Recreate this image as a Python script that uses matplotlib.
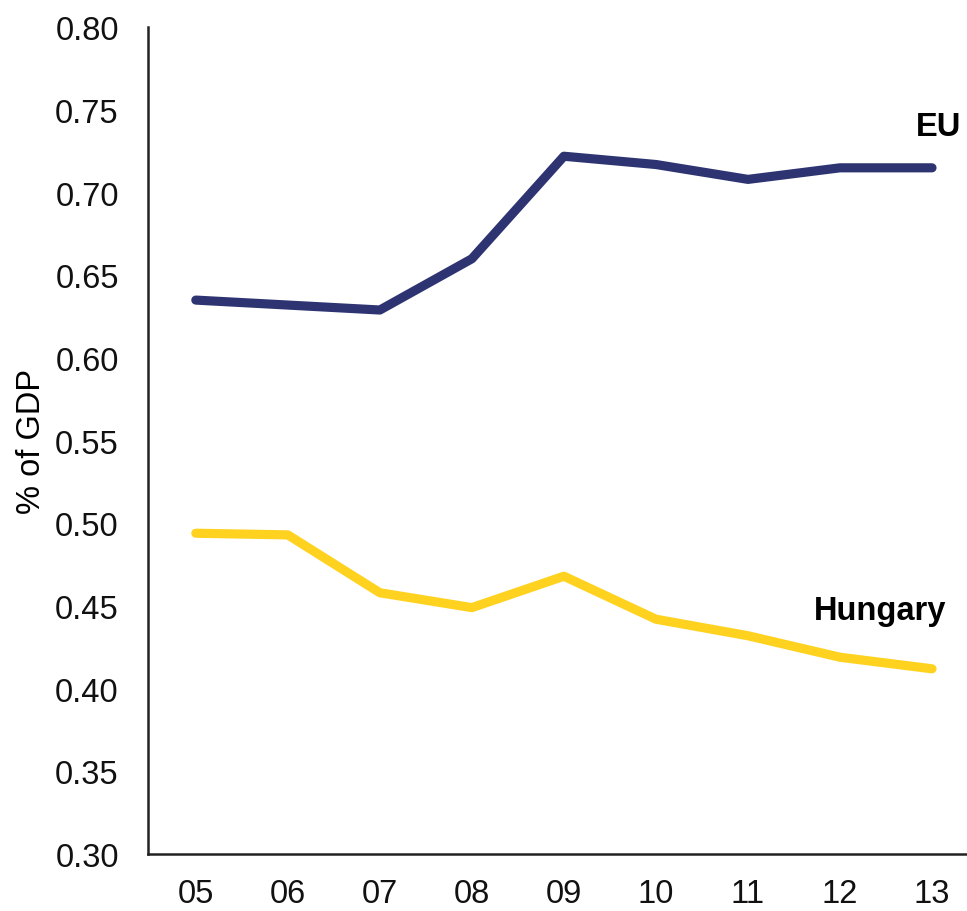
import matplotlib.pyplot as plt

plt.rcParams['font.family'] = ['Liberation Sans', 'DejaVu Sans']

years = ['05', '06', '07', '08', '09', '10', '11', '12', '13']
eu = [0.635, 0.632, 0.629, 0.660, 0.722, 0.717, 0.708, 0.715, 0.715]
hungary = [0.494, 0.493, 0.458, 0.449, 0.468, 0.442, 0.432, 0.419, 0.412]
yticks = [0.30, 0.35, 0.40, 0.45, 0.50, 0.55, 0.60, 0.65, 0.70, 0.75, 0.80]

EU_COLOR = '#2e3471'
HU_COLOR = '#fed21e'

fig = plt.figure(figsize=(9.67, 9.12), dpi=100)
ax = fig.add_axes([0.153, 0.0625, 0.847, 0.9065])

x = list(range(len(years)))
ax.plot(x, eu, color=EU_COLOR, lw=6.6, solid_capstyle='round', solid_joinstyle='round')
ax.plot(x, hungary, color=HU_COLOR, lw=6.6, solid_capstyle='round', solid_joinstyle='round')

# series labels
ax.text(8.07, 0.740, 'EU', fontsize=23.5, fontweight='bold', ha='center', va='center')
ax.text(7.43, 0.447, 'Hungary', fontsize=23.5, fontweight='bold', ha='center', va='center')

ax.set_xlim(-0.52, 8.38)
ax.set_ylim(0.30, 0.80)
ax.set_xticks(x)
ax.set_xticklabels(years)
ax.set_yticks(yticks)
ax.set_yticklabels(['%.2f' % v for v in yticks])
ax.tick_params(axis='both', length=0, labelsize=23.5, colors='#111111')
ax.tick_params(axis='y', pad=21)
ax.tick_params(axis='x', pad=17)
ax.set_ylabel('% of GDP', fontsize=23.5, labelpad=6)

for s in ['top', 'right']:
    ax.spines[s].set_visible(False)
for s in ['left', 'bottom']:
    ax.spines[s].set_linewidth(1.8)
    ax.spines[s].set_color('#222222')

fig.savefig('out.png', dpi=100)
